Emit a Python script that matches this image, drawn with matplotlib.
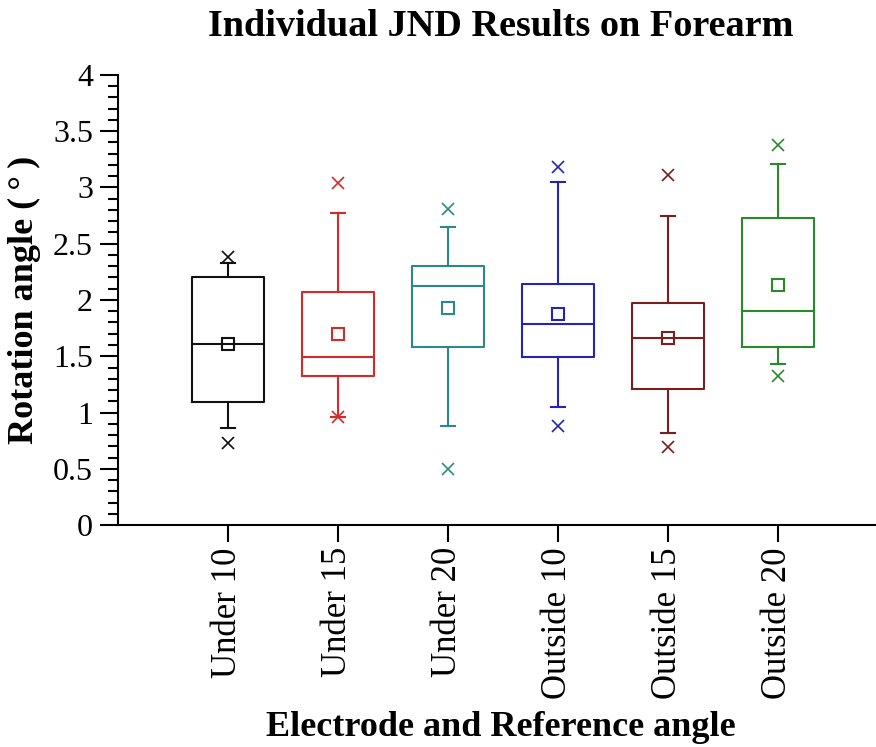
import numpy as np
import matplotlib.pyplot as plt
from matplotlib.ticker import MultipleLocator, FormatStrFormatter

plt.rcParams['font.family'] = ['Liberation Serif', 'DejaVu Serif']

categories = ["Under 10", "Under 15", "Under 20", "Outside 10", "Outside 15", "Outside 20"]
colors = ["#111111", "#d42a2a", "#2a8a8a", "#2424b8", "#7a1e1e", "#2a8a2a"]

# box statistics
minimum = [0.73, 0.96, 0.50, 0.88, 0.69, 1.32]
whisker_low = [0.86, 0.96, 0.88, 1.05, 0.815, 1.43]
q1 = [1.09, 1.32, 1.585, 1.49, 1.21, 1.585]
median = [1.61, 1.49, 2.12, 1.79, 1.66, 1.905]
q3 = [2.20, 2.07, 2.30, 2.14, 1.97, 2.73]
whisker_high = [2.33, 2.77, 2.65, 3.05, 2.75, 3.21]
maximum = [2.38, 3.04, 2.81, 3.18, 3.11, 3.38]
mean = [1.61, 1.70, 1.93, 1.88, 1.665, 2.13]

fig = plt.figure(figsize=(8.76, 7.47), dpi=100)
ax = fig.add_axes([118 / 876, 222 / 747, 770 / 876, 450 / 747])

positions = np.arange(1, len(categories) + 1)
for i, pos in enumerate(positions):
    c = colors[i]
    stats = [dict(whislo=whisker_low[i], q1=q1[i], med=median[i], q3=q3[i],
                  whishi=whisker_high[i], mean=mean[i], fliers=[])]
    ax.bxp(stats, positions=[pos], widths=0.65, showmeans=True, showfliers=False,
           boxprops=dict(color=c, linewidth=1.5),
           medianprops=dict(color=c, linewidth=1.5),
           whiskerprops=dict(color=c, linewidth=1.5),
           capprops=dict(color=c, linewidth=1.5),
           capwidths=0.12,
           meanprops=dict(marker="s", markerfacecolor="none", markeredgecolor=c,
                          markersize=9, markeredgewidth=1.5))
    ax.plot([pos, pos], [minimum[i], maximum[i]], linestyle="none", marker="x",
            color=c, markersize=9, markeredgewidth=1.2)

ax.set_xlim(0, 7)
ax.set_ylim(0, 4)
ax.set_xticks(positions)
ax.set_xticklabels(categories, rotation=90, fontsize=25)
ax.yaxis.set_major_locator(MultipleLocator(0.5))
ax.yaxis.set_minor_locator(MultipleLocator(0.1))
ax.yaxis.set_major_formatter(FormatStrFormatter('%g'))
ax.tick_params(axis="y", which="major", labelsize=23, length=13, width=1.5, pad=5)
ax.tick_params(axis="y", which="minor", length=7, width=1.5)
ax.tick_params(axis="x", which="major", length=12, width=1.5, pad=4)
ax.spines["top"].set_visible(False)
ax.spines["right"].set_visible(False)
ax.spines["left"].set_linewidth(1.5)
ax.spines["bottom"].set_linewidth(1.5)

ax.set_ylabel("Rotation angle (\u2009°\u2009)", fontsize=26, fontweight="bold")
ax.yaxis.set_label_coords(-0.1, 0.5)
fig.text(501 / 876, 1 - 727 / 747, "Electrode and Reference angle", ha="center",
         va="center", fontsize=26, fontweight="bold")
fig.text(501 / 876, 1 - 26 / 747, "Individual JND Results on Forearm", ha="center",
         va="center", fontsize=27.5, fontweight="bold")

fig.savefig("out.png", dpi=100)
